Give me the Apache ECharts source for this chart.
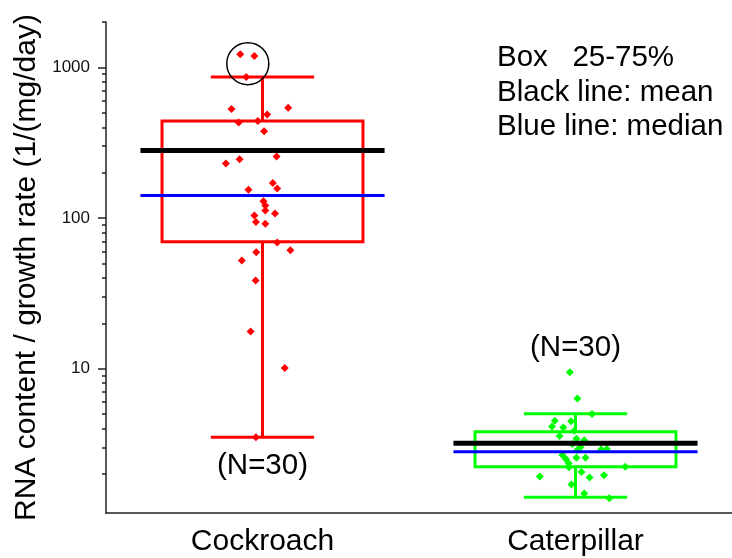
<!DOCTYPE html>
<html>
<head>
<meta charset="utf-8">
<script src="https://cdn.jsdelivr.net/npm/echarts@6/dist/echarts.min.js"></script>
<style>
  html, body { margin: 0; padding: 0; background: #fff; }
  #chart { width: 732px; height: 558px; }
</style>
</head>
<body>
<div id="chart"></div>
<script>
// Groups on the x axis
const categories = ['Cockroach', 'Caterpillar'];
const groupColors = ['#ff0000', '#00ff00'];

// Per-group summaries (1/(mg/day))
const q1 = [69.5, 2.23];
const q3 = [440, 3.81];
const means = [280, 3.19];
const medians = [141, 2.81];
const whiskerLow = [3.5, 1.40];
const whiskerHigh = [862, 5.02];

// Individual measurements; jitter is the horizontal offset as a fraction of the category band
const cockroachValues = [1220, 1189, 862, 528, 540, 487, 431, 440, 377, 256,
  245, 230, 171, 157, 154, 129, 121, 112, 107, 104,
  94, 91.5, 68.7, 59.3, 61.1, 52.2, 38.4, 17.6, 10.1, 3.5];
const cockroachJitter = [-0.071, -0.026, -0.052, -0.099, 0.082, 0.015, -0.076, -0.015, 0.005, 0.045,
  -0.073, -0.117, 0.033, 0.047, -0.045, 0.003, 0.009, 0.009, 0.040, -0.026,
  -0.021, 0.009, 0.047, -0.020, 0.089, -0.066, -0.022, -0.038, 0.071, -0.021];

const caterpillarValues = [9.45, 6.32, 5.0, 4.51, 4.47, 4.12, 4.07, 3.57, 3.42, 3.35,
  3.16, 2.90, 2.93, 2.88, 2.67, 2.56, 2.56, 2.51, 2.23, 2.21,
  1.92, 2.06, 1.89, 1.96, 1.70, 1.48, 1.38, 3.87, 3.0, 2.35];
const caterpillarJitter = [-0.018, 0.006, 0.053, -0.066, -0.014, -0.075, -0.039, -0.051, 0.003, 0.028,
  -0.010, 0.082, 0.100, 0.006, -0.042, 0.003, 0.032, -0.031, 0.159, -0.021,
  -0.114, 0.019, 0.045, 0.091, -0.013, 0.028, 0.108, -0.004, 0.016, -0.022];

// Highlighted cluster of the three largest cockroach values
const highlightCenter = [-0.047, 1058];

// Where the "(N=…)" notes sit, in data units
const countLabelPos = [[0, 2.25], [1, 13.7]];

// Y axis ticks (log scale)
const yMin = 1.1;
const yMax = 2000;
const majorTicks = [10, 100, 1000];
const minorTicks = [2, 3, 4, 5, 6, 7, 8, 9,
  20, 30, 40, 50, 60, 70, 80, 90,
  200, 300, 400, 500, 600, 700, 800, 900, 2000];

const notes = ['Box   25-75%', 'Black line: mean', 'Blue line: median'];

const FONT = '"Liberation Sans", Arial, sans-serif';

const chart = echarts.init(document.getElementById('chart'), null, { renderer: 'canvas' });

const boxData = categories.map((c, i) => [i, q1[i], q3[i], whiskerLow[i], whiskerHigh[i]]);
const centerData = categories.map((c, i) => [i, means[i], medians[i]]);

function renderBox(params, api) {
  const idx = api.value(0);
  const band = api.size([1, 0])[0];
  const x = api.coord([idx, api.value(1)])[0];
  const yQ1 = api.coord([idx, api.value(1)])[1];
  const yQ3 = api.coord([idx, api.value(2)])[1];
  const yLo = api.coord([idx, api.value(3)])[1];
  const yHi = api.coord([idx, api.value(4)])[1];
  const boxW = band * 0.642;
  const capW = band * 0.33;
  const st = { stroke: groupColors[idx], lineWidth: 3, fill: null };
  return {
    type: 'group',
    children: [
      { type: 'line', shape: { x1: x, y1: yQ3, x2: x, y2: yHi }, style: st },
      { type: 'line', shape: { x1: x, y1: yQ1, x2: x, y2: yLo }, style: st },
      { type: 'line', shape: { x1: x - capW / 2, y1: yHi, x2: x + capW / 2, y2: yHi }, style: st },
      { type: 'line', shape: { x1: x - capW / 2, y1: yLo, x2: x + capW / 2, y2: yLo }, style: st },
      { type: 'rect', shape: { x: x - boxW / 2, y: yQ3, width: boxW, height: yQ1 - yQ3 },
        style: { stroke: groupColors[idx], lineWidth: 3, fill: 'none' } }
    ]
  };
}

function renderCenters(params, api) {
  const idx = api.value(0);
  const band = api.size([1, 0])[0];
  const pm = api.coord([idx, api.value(1)]);
  const pd = api.coord([idx, api.value(2)]);
  const w = band * 0.78;
  return {
    type: 'group',
    children: [
      { type: 'line', shape: { x1: pd[0] - w / 2, y1: pd[1], x2: pd[0] + w / 2, y2: pd[1] },
        style: { stroke: '#0000ff', lineWidth: 3 } },
      { type: 'line', shape: { x1: pm[0] - w / 2, y1: pm[1], x2: pm[0] + w / 2, y2: pm[1] },
        style: { stroke: '#000000', lineWidth: 5 } }
    ]
  };
}

const pointSeries = [
  [cockroachValues, cockroachJitter, 0],
  [caterpillarValues, caterpillarJitter, 1]
].map(([vals, jit, gi]) => ({
  type: 'scatter',
  xAxisIndex: 1,
  yAxisIndex: 0,
  symbol: 'diamond',
  symbolSize: 8,
  itemStyle: { color: groupColors[gi], opacity: 1 },
  silent: true,
  z: 3,
  data: vals.map((v, i) => [gi + jit[i], v])
}));

const groupCounts = [cockroachValues.length, caterpillarValues.length];

chart.setOption({
  animation: false,
  backgroundColor: '#ffffff',
  grid: { left: 106, top: 22, width: 632, height: 491 },
  xAxis: [
    {
      type: 'category',
      data: categories,
      axisLine: { onZero: false, lineStyle: { color: '#222', width: 1.5 } },
      axisTick: { alignWithLabel: true, length: 8, lineStyle: { color: '#222', width: 1.5 } },
      axisLabel: { fontSize: 30, color: '#000', fontFamily: FONT, margin: 14 },
      splitLine: { show: false }
    },
    { type: 'value', min: -0.5, max: 1.5, show: false }
  ],
  yAxis: [
    {
      type: 'log',
      logBase: 10,
      min: yMin,
      max: yMax,
      position: 'left',
      name: 'RNA content / growth rate (1/(mg/day)',
      nameLocation: 'middle',
      nameRotate: 90,
      nameGap: 59,
      nameTextStyle: { fontSize: 30, color: '#000', fontFamily: FONT },
      axisLine: { show: true, onZero: false, lineStyle: { color: '#222', width: 1.5 } },
      axisTick: { show: true, length: 8, customValues: majorTicks, lineStyle: { color: '#222', width: 1.5 } },
      axisLabel: { customValues: majorTicks, fontSize: 17, color: '#111', fontFamily: FONT, margin: 16,
        formatter: v => String(Math.round(v)) },
      splitLine: { show: false }
    },
    {
      type: 'log',
      logBase: 10,
      min: yMin,
      max: yMax,
      position: 'left',
      axisLine: { show: false, onZero: false },
      axisTick: { show: true, length: 4, customValues: minorTicks, lineStyle: { color: '#222', width: 1.5 } },
      axisLabel: { show: false },
      splitLine: { show: false }
    }
  ],
  graphic: notes.map((t, i) => ({
    type: 'text',
    left: 497,
    top: 43 + i * 34.5,
    style: { text: t, fontSize: 29.5, fill: '#000', fontFamily: FONT }
  })),
  series: [
    {
      type: 'custom',
      xAxisIndex: 0,
      yAxisIndex: 0,
      renderItem: renderBox,
      silent: true,
      z: 2,
      data: boxData
    },
    ...pointSeries,
    {
      type: 'custom',
      xAxisIndex: 0,
      yAxisIndex: 0,
      renderItem: renderCenters,
      silent: true,
      z: 4,
      data: centerData
    },
    {
      type: 'scatter',
      xAxisIndex: 1,
      yAxisIndex: 0,
      symbol: 'circle',
      symbolSize: 42,
      silent: true,
      z: 5,
      itemStyle: { color: 'rgba(0,0,0,0)', borderColor: '#000', borderWidth: 1.5, opacity: 1 },
      data: [highlightCenter]
    },
    {
      type: 'scatter',
      xAxisIndex: 1,
      yAxisIndex: 0,
      symbolSize: 0,
      silent: true,
      z: 5,
      itemStyle: { opacity: 1 },
      label: {
        show: true,
        position: 'inside',
        fontSize: 29.5,
        color: '#000',
        fontFamily: FONT,
        formatter: p => '(N=' + groupCounts[p.dataIndex] + ')'
      },
      data: countLabelPos
    }
  ]
});
</script>
</body>
</html>
